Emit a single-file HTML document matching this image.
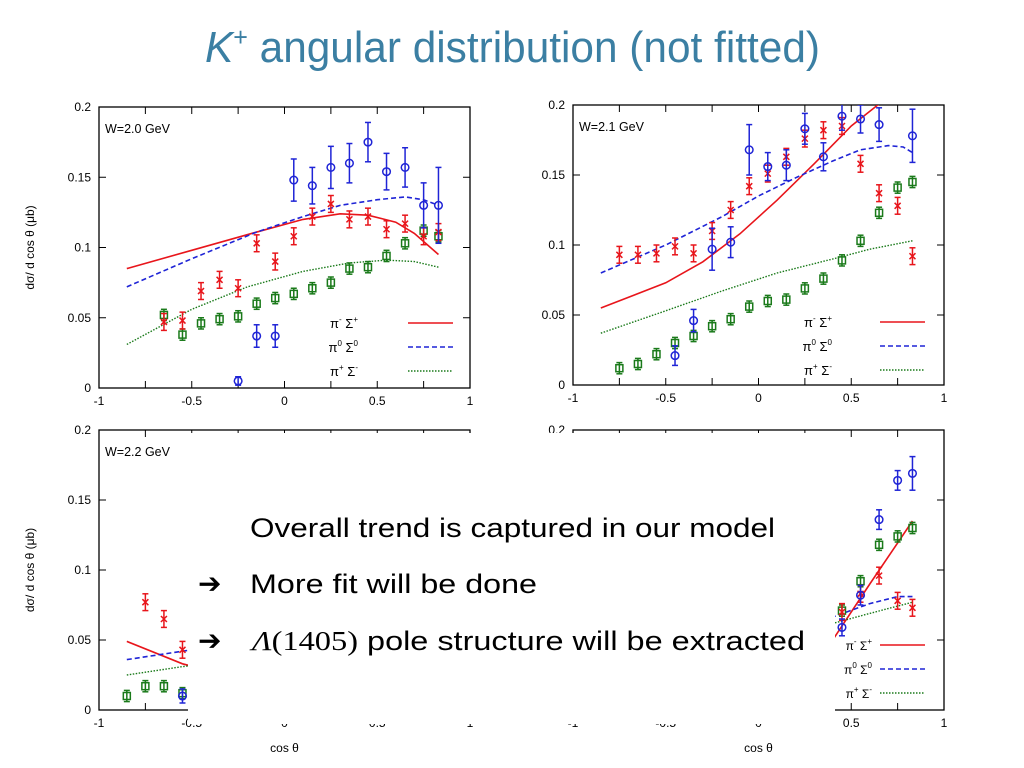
<!DOCTYPE html>
<html><head><meta charset="utf-8">
<style>
html,body{margin:0;padding:0;background:#fff;}
svg{display:block;}
text{font-family:"Liberation Sans",sans-serif;}
</style></head>
<body>
<svg id="chart" width="1024" height="768" viewBox="0 0 1024 768" xmlns="http://www.w3.org/2000/svg">
<text x="205" y="62" font-size="44" fill="#3b7fa3" textLength="615" lengthAdjust="spacingAndGlyphs"><tspan font-style="italic">K</tspan><tspan font-size="26" dy="-16">+</tspan><tspan dy="16"> angular distribution (not fitted)</tspan></text>
<g id="plots"></g>
<rect x="188" y="433" width="647" height="291" fill="#fff"/>
<g id="front"></g>
<text x="250" y="537" font-size="27" textLength="525" lengthAdjust="spacingAndGlyphs">Overall trend is captured in our model</text>
<text x="198" y="593" font-size="28" font-family="DejaVu Sans">➔</text>
<text x="250" y="593" font-size="27" textLength="287" lengthAdjust="spacingAndGlyphs">More fit will be done</text>
<text x="198" y="650" font-size="28" font-family="DejaVu Sans">➔</text>
<text x="252" y="650" font-size="27" textLength="553" lengthAdjust="spacingAndGlyphs"><tspan font-family="Liberation Serif" font-style="italic">Λ</tspan><tspan font-family="Liberation Serif">(1405)</tspan> pole structure will be extracted</text>
</svg>
<script>
// ---- data (cos theta, dsigma) ----
const w20_red_x=[-0.65,-0.55,-0.45,-0.35,-0.25,-0.15,-0.05,0.05,0.15,0.25,0.35,0.45,0.55,0.65,0.75,0.83];
const w20_red_y=[0.047,0.048,0.069,0.077,0.071,0.103,0.090,0.108,0.122,0.131,0.120,0.122,0.113,0.117,0.108,0.111];
const w20_blue_x=[-0.25,-0.15,-0.05,0.05,0.15,0.25,0.35,0.45,0.55,0.65,0.75,0.83];
const w20_blue_y=[0.005,0.037,0.037,0.148,0.144,0.157,0.160,0.175,0.154,0.157,0.130,0.130];
const w20_blue_e=[0.003,0.008,0.008,0.015,0.013,0.015,0.014,0.014,0.013,0.014,0.016,0.027];
const w20_green_x=[-0.65,-0.55,-0.45,-0.35,-0.25,-0.15,-0.05,0.05,0.15,0.25,0.35,0.45,0.55,0.65,0.75,0.83];
const w20_green_y=[0.052,0.038,0.046,0.049,0.051,0.060,0.064,0.067,0.071,0.075,0.085,0.086,0.094,0.103,0.112,0.108];
const w20_cred_x=[-0.85,-0.5,-0.15,0.1,0.3,0.45,0.6,0.7,0.83];
const w20_cred_y=[0.085,0.098,0.111,0.120,0.124,0.123,0.118,0.110,0.095];
const w20_cblue_x=[-0.85,-0.5,-0.15,0.1,0.3,0.5,0.65,0.75,0.83];
const w20_cblue_y=[0.072,0.092,0.111,0.122,0.130,0.134,0.136,0.134,0.130];
const w20_cgreen_x=[-0.85,-0.5,-0.2,0.1,0.35,0.55,0.7,0.83];
const w20_cgreen_y=[0.031,0.056,0.072,0.083,0.089,0.091,0.090,0.086];

const w21_red_x=[-0.75,-0.65,-0.55,-0.45,-0.35,-0.25,-0.15,-0.05,0.05,0.15,0.25,0.35,0.45,0.55,0.65,0.75,0.83];
const w21_red_y=[0.093,0.093,0.094,0.099,0.094,0.110,0.125,0.142,0.151,0.163,0.176,0.182,0.185,0.158,0.137,0.128,0.092];
const w21_blue_x=[-0.45,-0.35,-0.25,-0.15,-0.05,0.05,0.15,0.25,0.35,0.45,0.55,0.65,0.83];
const w21_blue_y=[0.021,0.046,0.097,0.102,0.168,0.156,0.157,0.183,0.163,0.192,0.190,0.186,0.178];
const w21_blue_e=[0.007,0.008,0.015,0.011,0.018,0.010,0.011,0.011,0.010,0.010,0.010,0.012,0.019];
const w21_green_x=[-0.75,-0.65,-0.55,-0.45,-0.35,-0.25,-0.15,-0.05,0.05,0.15,0.25,0.35,0.45,0.55,0.65,0.75,0.83];
const w21_green_y=[0.012,0.015,0.022,0.030,0.035,0.042,0.047,0.056,0.060,0.061,0.069,0.076,0.089,0.103,0.123,0.141,0.145];
const w21_cred_x=[-0.85,-0.5,-0.3,-0.1,0.1,0.3,0.5,0.7];
const w21_cred_y=[0.055,0.073,0.088,0.108,0.132,0.158,0.185,0.206];
const w21_cblue_x=[-0.85,-0.5,-0.2,0,0.2,0.4,0.55,0.7,0.78,0.83];
const w21_cblue_y=[0.080,0.100,0.120,0.135,0.148,0.160,0.168,0.171,0.170,0.166];
const w21_cgreen_x=[-0.85,-0.5,-0.2,0.1,0.4,0.6,0.83];
const w21_cgreen_y=[0.037,0.053,0.067,0.080,0.090,0.097,0.103];

const w22_red_x=[-0.75,-0.65,-0.55];
const w22_red_y=[0.077,0.065,0.043];
const w22_blue_x=[-0.55];
const w22_blue_y=[0.010];
const w22_blue_e=[0.005];
const w22_green_x=[-0.85,-0.75,-0.65,-0.55];
const w22_green_y=[0.010,0.017,0.017,0.012];
const w22_cred_x=[-0.85,-0.55,-0.4];
const w22_cred_y=[0.049,0.033,0.028];
const w22_cblue_x=[-0.85,-0.55,-0.4];
const w22_cblue_y=[0.036,0.042,0.045];
const w22_cgreen_x=[-0.85,-0.55,-0.4];
const w22_cgreen_y=[0.025,0.031,0.033];

const w23_red_x=[0.45,0.55,0.65,0.75,0.83];
const w23_red_y=[0.070,0.083,0.096,0.078,0.073];
const w23_blue_x=[0.45,0.55,0.65,0.75,0.83];
const w23_blue_y=[0.059,0.082,0.136,0.164,0.169];
const w23_blue_e=[0.006,0.007,0.007,0.007,0.012];
const w23_green_x=[0.45,0.55,0.65,0.75,0.83];
const w23_green_y=[0.071,0.092,0.118,0.124,0.130];
const w23_cred_x=[0.35,0.6,0.83];
const w23_cred_y=[0.040,0.090,0.135];
const w23_cblue_x=[0.35,0.6,0.75,0.83];
const w23_cblue_y=[0.064,0.076,0.081,0.081];
const w23_cgreen_x=[0.35,0.6,0.83];
const w23_cgreen_y=[0.060,0.069,0.077];

const yTickLabels=["0","0.05","0.1","0.15","0.2"];
const yTickVals=[0,0.05,0.1,0.15,0.2];
const xTickLabels=["-1","-0.5","0","0.5","1"];
const xTickVals=[-1,-0.5,0,0.5,1];
const legendLabels=[["π","-","Σ","+"],["π","0","Σ","0"],["π","+","Σ","-"]];

const NS="http://www.w3.org/2000/svg";
const root=document.getElementById('plots');
const front=document.getElementById('front');
function mk(tag,attrs,parent){const e=document.createElementNS(NS,tag);for(const k in attrs)e.setAttribute(k,attrs[k]);(parent||root).appendChild(e);return e;}

const panels=[
 {id:'w20',L:99,R:470,T:107,B:388,label:'W=2.0 GeV',yl:true,xlY:405,legX:358,legY:323,legLx:408,fs:13},
 {id:'w21',L:573,R:944,T:105,B:385,label:'W=2.1 GeV',yl:false,xlY:402,legX:832,legY:322,legLx:880,fs:13},
 {id:'w22',L:99,R:470,T:430,B:710,label:'W=2.2 GeV',yl:true,xlY:727,legX:358,legY:645,legLx:408,fs:13},
 {id:'w23',L:573,R:944,T:430,B:710,label:'',yl:false,xlY:727,legX:872,legY:645,legLx:880,fs:12,front:true}
];
const data={
 w20:{rx:w20_red_x,ry:w20_red_y,bx:w20_blue_x,by:w20_blue_y,be:w20_blue_e,gx:w20_green_x,gy:w20_green_y,crx:w20_cred_x,cry:w20_cred_y,cbx:w20_cblue_x,cby:w20_cblue_y,cgx:w20_cgreen_x,cgy:w20_cgreen_y},
 w21:{rx:w21_red_x,ry:w21_red_y,bx:w21_blue_x,by:w21_blue_y,be:w21_blue_e,gx:w21_green_x,gy:w21_green_y,crx:w21_cred_x,cry:w21_cred_y,cbx:w21_cblue_x,cby:w21_cblue_y,cgx:w21_cgreen_x,cgy:w21_cgreen_y},
 w22:{rx:w22_red_x,ry:w22_red_y,bx:w22_blue_x,by:w22_blue_y,be:w22_blue_e,gx:w22_green_x,gy:w22_green_y,crx:w22_cred_x,cry:w22_cred_y,cbx:w22_cblue_x,cby:w22_cblue_y,cgx:w22_cgreen_x,cgy:w22_cgreen_y},
 w23:{rx:w23_red_x,ry:w23_red_y,bx:w23_blue_x,by:w23_blue_y,be:w23_blue_e,gx:w23_green_x,gy:w23_green_y,crx:w23_cred_x,cry:w23_cred_y,cbx:w23_cblue_x,cby:w23_cblue_y,cgx:w23_cgreen_x,cgy:w23_cgreen_y}
};
const RED='#e8151b',BLUE='#1f24d6',GREEN='#1a7a1a';

panels.forEach(p=>{
 const d=data[p.id];
 const sx=v=>p.L+(v+1)/2*(p.R-p.L);
 const sy=v=>p.B-v/0.2*(p.B-p.T);
 const g=mk('g',{});
 
 
 const cp=mk('clipPath',{id:'clip-'+p.id},g);
 mk('rect',{x:p.L,y:p.T,width:p.R-p.L,height:p.B-p.T},cp);
 const frame=mk('rect',{x:p.L,y:p.T,width:p.R-p.L,height:p.B-p.T,fill:'none',stroke:'#000','stroke-width':1.3},g);
 
 
 yTickVals.forEach((v,i)=>{
  const y=sy(v);
  mk('line',{x1:p.L,x2:p.L+7,y1:y,y2:y,stroke:'#000'},g);
  mk('line',{x1:p.R,x2:p.R-7,y1:y,y2:y,stroke:'#000'},g);
  const t=mk('text',{x:p.L-8,y:y+4,'font-size':12,'text-anchor':'end'},g);
  t.textContent=yTickLabels[i];
  
  
 });
 for(let k=0;k<=8;k++){
  const v=-1+k*0.25;const x=sx(v);
  mk('line',{x1:x,x2:x,y1:p.B,y2:p.B-7,stroke:'#000'},g);
  mk('line',{x1:x,x2:x,y1:p.T,y2:p.T+7,stroke:'#000'},g);
 }
 xTickVals.forEach((v,i)=>{
  const t=mk('text',{x:sx(v),y:p.xlY,'font-size':12,'text-anchor':'middle'},g);
  t.textContent=xTickLabels[i];
  
  
 });
 if(p.label){const t=mk('text',{x:p.L+6,y:p.T+26,'font-size':12.5},g);t.textContent=p.label;
  
  }
 const pg=mk('g',{'clip-path':'url(#clip-'+p.id+')'},g);
 function curve(xs,ys,col,dash,w,name){
  const pts=xs.map((x,i)=>sx(x)+','+sy(ys[i])).join(' ');
  const a={points:pts,fill:'none',stroke:col,'stroke-width':w};if(dash)a['stroke-dasharray']=dash;
  const l=mk('polyline',a,pg);
  
  
 }
 curve(d.crx,d.cry,RED,null,1.6,'curve-pim-sigp');
 curve(d.cbx,d.cby,BLUE,'5,3',1.6,'curve-pi0-sig0');
 curve(d.cgx,d.cgy,GREEN,'1.5,1.5',1.4,'curve-pip-sigm');
 function ebar(x,y,e,col){
  const X=sx(x);mk('line',{x1:X,x2:X,y1:sy(y-e),y2:sy(y+e),stroke:col,'stroke-width':1.5},pg);
  mk('line',{x1:X-3,x2:X+3,y1:sy(y-e),y2:sy(y-e),stroke:col,'stroke-width':1.5},pg);
  mk('line',{x1:X-3,x2:X+3,y1:sy(y+e),y2:sy(y+e),stroke:col,'stroke-width':1.5},pg);
 }
 d.gx.forEach((x,i)=>{ebar(x,d.gy[i],0.004,GREEN);
  const r=mk('rect',{x:sx(x)-3.5,y:sy(d.gy[i])-3.5,width:7,height:7,fill:'none',stroke:GREEN,'stroke-width':1.5},pg);
  
  });
 d.rx.forEach((x,i)=>{ebar(x,d.ry[i],0.006,RED);
  const X=sx(x),Y=sy(d.ry[i]);
  const pth=mk('path',{d:`M${X-3},${Y-3}L${X+3},${Y+3}M${X-3},${Y+3}L${X+3},${Y-3}`,stroke:RED,'stroke-width':1.5},pg);
  
  });
 d.bx.forEach((x,i)=>{ebar(x,d.by[i],d.be[i],BLUE);
  const c=mk('circle',{cx:sx(x),cy:sy(d.by[i]),r:3.8,fill:'none',stroke:BLUE,'stroke-width':1.5},pg);
  
  });
 // legend
 const lg=p.front?front:g;
 const cols=[[RED,null],[BLUE,'5,3'],[GREEN,'1.5,1.5']];
 legendLabels.forEach((lab,i)=>{
  const y=p.legY+i*24;
  const t=mk('text',{x:p.legX,y:y+5,'font-size':p.fs,'text-anchor':'end'},lg);
  
  
  const a=mk('tspan',{},t);a.textContent=lab[0];
  const b=mk('tspan',{'font-size':8,dy:-6},t);b.textContent=lab[1];
  const c=mk('tspan',{dy:6},t);c.textContent=' '+lab[2];
  const e=mk('tspan',{'font-size':8,dy:-6},t);e.textContent=lab[3];
  const la={x1:p.legLx,x2:p.legLx+45,y1:y,y2:y,stroke:cols[i][0],'stroke-width':1.6};
  if(cols[i][1])la['stroke-dasharray']=cols[i][1];
  mk('line',la,g);
 });
 if(p.yl){
  const cy=(p.T+p.B)/2;
  const t=mk('text',{x:34,y:cy,'font-size':12,'text-anchor':'middle',transform:`rotate(-90 34 ${cy})`},g);
  t.textContent='dσ/ d cos θ (μb)';
  
  
 }
 if(p.id==='w22'||p.id==='w23'){
  const t=mk('text',{x:(p.L+p.R)/2,y:752,'font-size':12,'text-anchor':'middle'},front);
  t.textContent='cos θ';
  
  
 }
});
</script>
</body></html>
